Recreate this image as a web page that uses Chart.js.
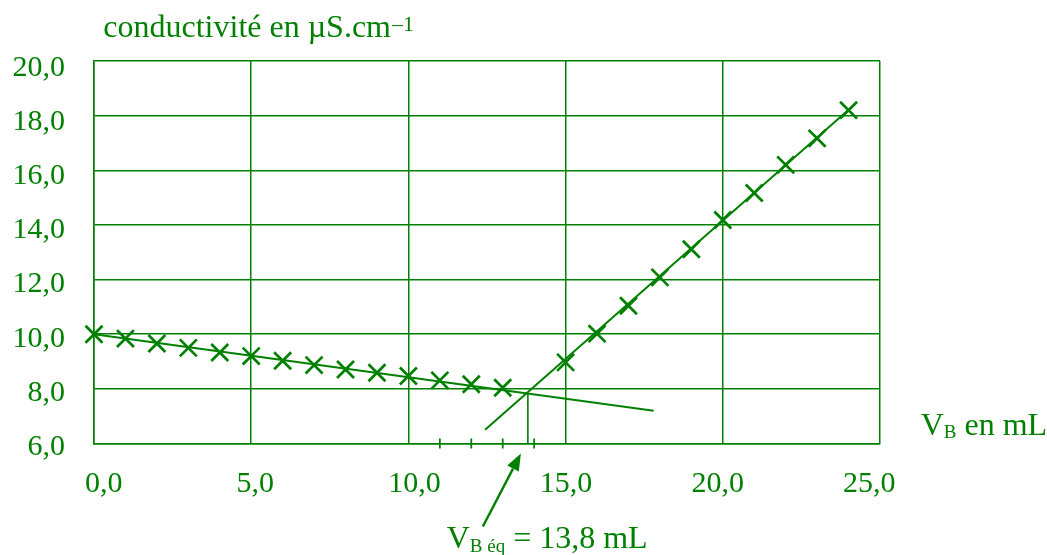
<!DOCTYPE html>
<html>
<head>
<meta charset="utf-8">
<script src="https://cdn.jsdelivr.net/npm/chart.js@4.4.1/dist/chart.umd.min.js"></script>
<style>
html,body{margin:0;padding:0;background:#fff;}
canvas{display:block;}
</style>
</head>
<body>
<canvas id="c" width="1047" height="555"></canvas>
<script>
// ---- data ----
const volumes = [0,1,2,3,4,5,6,7,8,9,10,11,12,13,15,16,17,18,19,20,21,22,23,24];
const conductivity = [10.0,9.84,9.66,9.50,9.33,9.20,9.03,8.87,8.71,8.59,8.47,8.31,8.17,8.04,
                      8.97,10.02,11.04,12.08,13.11,14.18,15.17,16.20,17.17,18.20];
const fit1Vol = [0, 17.8];
const fit1Cond = [10.0, 7.2];
const fit2Vol = [12.44, 24.2];
const fit2Cond = [6.5, 18.42];
const VEQ = 13.8;
const condEq = 7.84;
const minorTickVols = [11,12,13,14];
const xTickValues = [0,5,10,15,20,25];
const yTickValues = [6,8,10,12,14,16,18,20];
const yTitle = "conductivité en µS.cm";
const yTitleSup = "\u20131";
const xTitleMain = "V";
const xTitleSub = "B";
const xTitleRest = " en mL";

const GREEN = '#008000';
const FONT = '"Liberation Serif", "Times New Roman", serif';

const pts = (xs, ys) => xs.map((x, i) => ({x: x, y: ys[i]}));
const fmt = v => v.toFixed(1).replace('.', ',');

const textPlugin = {
  id: 'texts',
  afterDraw(chart) {
    const ctx = chart.ctx;
    const xs = chart.scales.x, ys = chart.scales.y;
    const area = chart.chartArea;
    ctx.save();
    ctx.fillStyle = GREEN;
    ctx.strokeStyle = GREEN;
    ctx.textBaseline = 'alphabetic';

    // tick labels
    ctx.font = '30px ' + FONT;
    ctx.textAlign = 'left';
    xTickValues.forEach(v => {
      ctx.fillText(fmt(v), xs.getPixelForValue(v) - 9 - 1.12 * v, area.bottom + 48);
    });
    ctx.textAlign = 'right';
    yTickValues.forEach(v => {
      ctx.fillText(fmt(v), area.left - 29, ys.getPixelForValue(v) + 11.3 + (v - 6) * 0.25);
    });

    // y title
    ctx.textAlign = 'left';
    ctx.font = '32px ' + FONT;
    const tx = area.left + 9.3, tb = 37.3;
    ctx.fillText(yTitle, tx, tb);
    const w1 = ctx.measureText(yTitle).width;
    ctx.font = '22px ' + FONT;
    ctx.fillText(yTitleSup, tx + w1 + 1, tb - 6.5);

    // x title
    let x0 = 920.7, b0 = 435;
    ctx.font = '32px ' + FONT;
    ctx.fillText(xTitleMain, x0, b0);
    let w = ctx.measureText(xTitleMain).width;
    ctx.font = '19px ' + FONT;
    ctx.fillText(xTitleSub, x0 + w, b0 + 3.3);
    w += ctx.measureText(xTitleSub).width;
    ctx.font = '32px ' + FONT;
    ctx.fillText(xTitleRest, x0 + w, b0);

    // equivalence annotation
    const px = xs.getPixelForValue(VEQ);
    const tipX = px - 7, tipY = area.bottom + 10;
    const tailX = tipX - 38, tailY = tipY + 73;
    const ang = Math.atan2(tipY - tailY, tipX - tailX);
    const hl = 17, hw = 6.5;
    const bx = tipX - hl * Math.cos(ang), by = tipY - hl * Math.sin(ang);
    ctx.lineWidth = 2.4;
    ctx.beginPath();
    ctx.moveTo(tailX, tailY);
    ctx.lineTo(bx, by);
    ctx.stroke();
    ctx.beginPath();
    ctx.moveTo(tipX, tipY);
    ctx.lineTo(bx + hw * Math.sin(ang), by - hw * Math.cos(ang));
    ctx.lineTo(bx - hw * Math.sin(ang), by + hw * Math.cos(ang));
    ctx.closePath();
    ctx.fill();

    let ax = 446.7, ab = 548;
    ctx.font = '32px ' + FONT;
    ctx.fillText('V', ax, ab);
    let aw = ctx.measureText('V').width;
    ctx.font = '19px ' + FONT;
    ctx.fillText('B éq', ax + aw, ab + 4);
    aw += ctx.measureText('B éq').width;
    ctx.font = '32px ' + FONT;
    ctx.fillText(' = ' + fmt(VEQ) + ' mL', ax + aw, ab);

    ctx.restore();
  }
};

new Chart(document.getElementById('c'), {
  type: 'scatter',
  data: {
    datasets: [
      {
        label: 'fit1', type: 'line', data: pts(fit1Vol, fit1Cond),
        borderColor: GREEN, borderWidth: 2, pointRadius: 0, fill: false, clip: false, order: 3
      },
      {
        label: 'fit2', type: 'line', data: pts(fit2Vol, fit2Cond),
        borderColor: GREEN, borderWidth: 2, pointRadius: 0, fill: false, clip: false, order: 3
      },
      {
        label: 'veq', type: 'line', data: [{x: VEQ, y: condEq}, {x: VEQ, y: 6}],
        borderColor: GREEN, borderWidth: 1.6, pointRadius: 0, fill: false, clip: false, order: 3
      },
      {
        label: 'minor', data: minorTickVols.map(v => ({x: v, y: 6})),
        pointStyle: 'line', rotation: 90, pointRadius: 5, borderWidth: 1.8,
        borderColor: GREEN, backgroundColor: GREEN, clip: false, order: 2
      },
      {
        label: 'mesures', data: pts(volumes, conductivity),
        pointStyle: 'crossRot', pointRadius: 12, borderWidth: 2.7,
        borderColor: GREEN, backgroundColor: GREEN, clip: false, order: 1
      }
    ]
  },
  options: {
    responsive: false,
    animation: false,
    events: [],
    layout: { padding: { left: 94, right: 167, top: 61, bottom: 111.5 } },
    plugins: { legend: { display: false }, tooltip: { enabled: false }, title: { display: false } },
    scales: {
      x: {
        type: 'linear', min: 0, max: 25,
        ticks: { display: false, stepSize: 5 },
        afterBuildTicks: s => { s.ticks = xTickValues.map(v => ({value: v})); },
        grid: { color: GREEN, lineWidth: 1.5, drawTicks: false },
        border: { color: GREEN, width: 1.5 }
      },
      y: {
        type: 'linear', min: 6, max: 20,
        ticks: { display: false, stepSize: 2 },
        afterBuildTicks: s => { s.ticks = yTickValues.map(v => ({value: v})); },
        grid: { color: GREEN, lineWidth: 1.5, drawTicks: false },
        border: { color: GREEN, width: 1.5 }
      }
    }
  },
  plugins: [textPlugin]
});
</script>
</body>
</html>
